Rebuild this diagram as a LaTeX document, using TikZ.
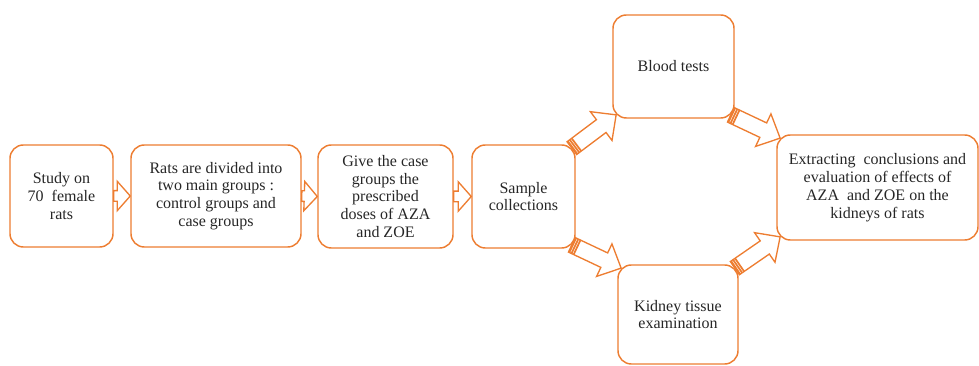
\documentclass[tikz,border=0pt]{standalone}
\usepackage{fontspec}
\setmainfont{Liberation Serif}
\usepackage{tikz}
\usetikzlibrary{calc}
\definecolor{boxorange}{HTML}{ED7D31}
\definecolor{textgray}{HTML}{262626}

\tikzset{
  stepbox/.style={draw=boxorange, line width=1.1pt, rounded corners=10pt,
    align=center, inner sep=2pt, text=textgray,
    font=\fontsize{12}{13.4}\selectfont},
  arrowline/.style={draw=boxorange, line width=1pt, line join=miter},
  stripe/.style={draw=boxorange, line width=1.3pt}
}

% hollow block arrow: tail, tip, shaft half width, head half width, head length
\newcommand{\flowarrow}[5]{%
  \coordinate (fa-c) at ($(#2)!#5!(#1)$);
  \draw[arrowline] ($(#1)!#3!90:(#2)$) -- ($(fa-c)!#3!90:(#2)$)
    -- ($(fa-c)!#4!90:(#2)$) -- (#2) -- ($(fa-c)!#4!-90:(#2)$)
    -- ($(fa-c)!#3!-90:(#2)$) -- ($(#1)!#3!-90:(#2)$) -- cycle;}

% thick bands at the tail of a diagonal arrow
\newcommand{\tailstripes}[2]{%
  \foreach \d in {0.7pt,2.5pt,4.3pt}{
    \coordinate (ts) at ($(#1)!\d!(#2)$);
    \draw[stripe] ($(ts)!6pt!90:(#2)$) -- ($(ts)!6pt!-90:(#2)$);
  }}

\begin{document}
\begin{tikzpicture}[x=0.75pt, y=-0.75pt]
  \useasboundingbox (0,0) rectangle (979,366);

  % boxes
  \node[stepbox, minimum width=77.25pt, minimum height=76.5pt] (study) at (61.5,196)
    {Study on\\70~ female\\rats};
  \node[stepbox, minimum width=127.5pt, minimum height=76.5pt] (divide) at (216,196)
    {Rats are divided into\\two main groups :\\control groups and\\case groups};
  \node[stepbox, minimum width=101.25pt, minimum height=77.25pt] (dose) at (385.5,196.5)
    {Give the case\\groups the\\prescribed\\doses of AZA\\and ZOE};
  \node[stepbox, minimum width=77.25pt, minimum height=77.25pt] (sample) at (523.5,196.5)
    {Sample\\collections};
  \node[stepbox, minimum width=90.75pt, minimum height=77.25pt] (blood) at (673.5,66.5)
    {Blood tests};
  \node[stepbox, minimum width=90pt, minimum height=74.25pt] (kidney) at (678,314.5)
    {Kidney tissue\\examination};
  \node[stepbox, minimum width=150.75pt, minimum height=78.75pt] (result) at (877.5,187.5)
    {Extracting~ conclusions and\\evaluation of effects of\\AZA~ and ZOE on the\\kidneys of rats};

  % straight arrows
  \flowarrow{study.east}{divide.west}{4pt}{11pt}{9.75pt}
  \flowarrow{divide.east}{dose.west}{4pt}{11pt}{9.75pt}
  \flowarrow{dose.east}{sample.west}{4pt}{11pt}{9.75pt}

  % points on the rounded corners
  \coordinate (sample-ne) at ($(sample.north east)+(-2.9pt,-2.9pt)$);
  \coordinate (sample-se) at ($(sample.south east)+(-2.9pt,2.9pt)$);
  \coordinate (blood-sw) at ($(blood.south west)+(2.9pt,2.9pt)$);
  \coordinate (blood-se) at ($(blood.south east)+(-2.9pt,2.9pt)$);
  \coordinate (kidney-nw) at ($(kidney.north west)+(2.9pt,-2.9pt)$);
  \coordinate (kidney-ne) at ($(kidney.north east)+(-2.9pt,-2.9pt)$);
  \coordinate (result-nw) at ($(result.north west)+(2.9pt,-2.9pt)$);
  \coordinate (result-sw) at ($(result.south west)+(2.9pt,2.9pt)$);

  % diagonal arrows
  \flowarrow{sample-ne}{blood-sw}{6pt}{13.5pt}{14pt}
  \tailstripes{sample-ne}{blood-sw}
  \flowarrow{sample-se}{kidney-nw}{6pt}{13.5pt}{14pt}
  \tailstripes{sample-se}{kidney-nw}
  \flowarrow{blood-se}{result-nw}{6pt}{13.5pt}{14pt}
  \tailstripes{blood-se}{result-nw}
  \flowarrow{kidney-ne}{result-sw}{6pt}{13.5pt}{14pt}
  \tailstripes{kidney-ne}{result-sw}
\end{tikzpicture}
\end{document}
